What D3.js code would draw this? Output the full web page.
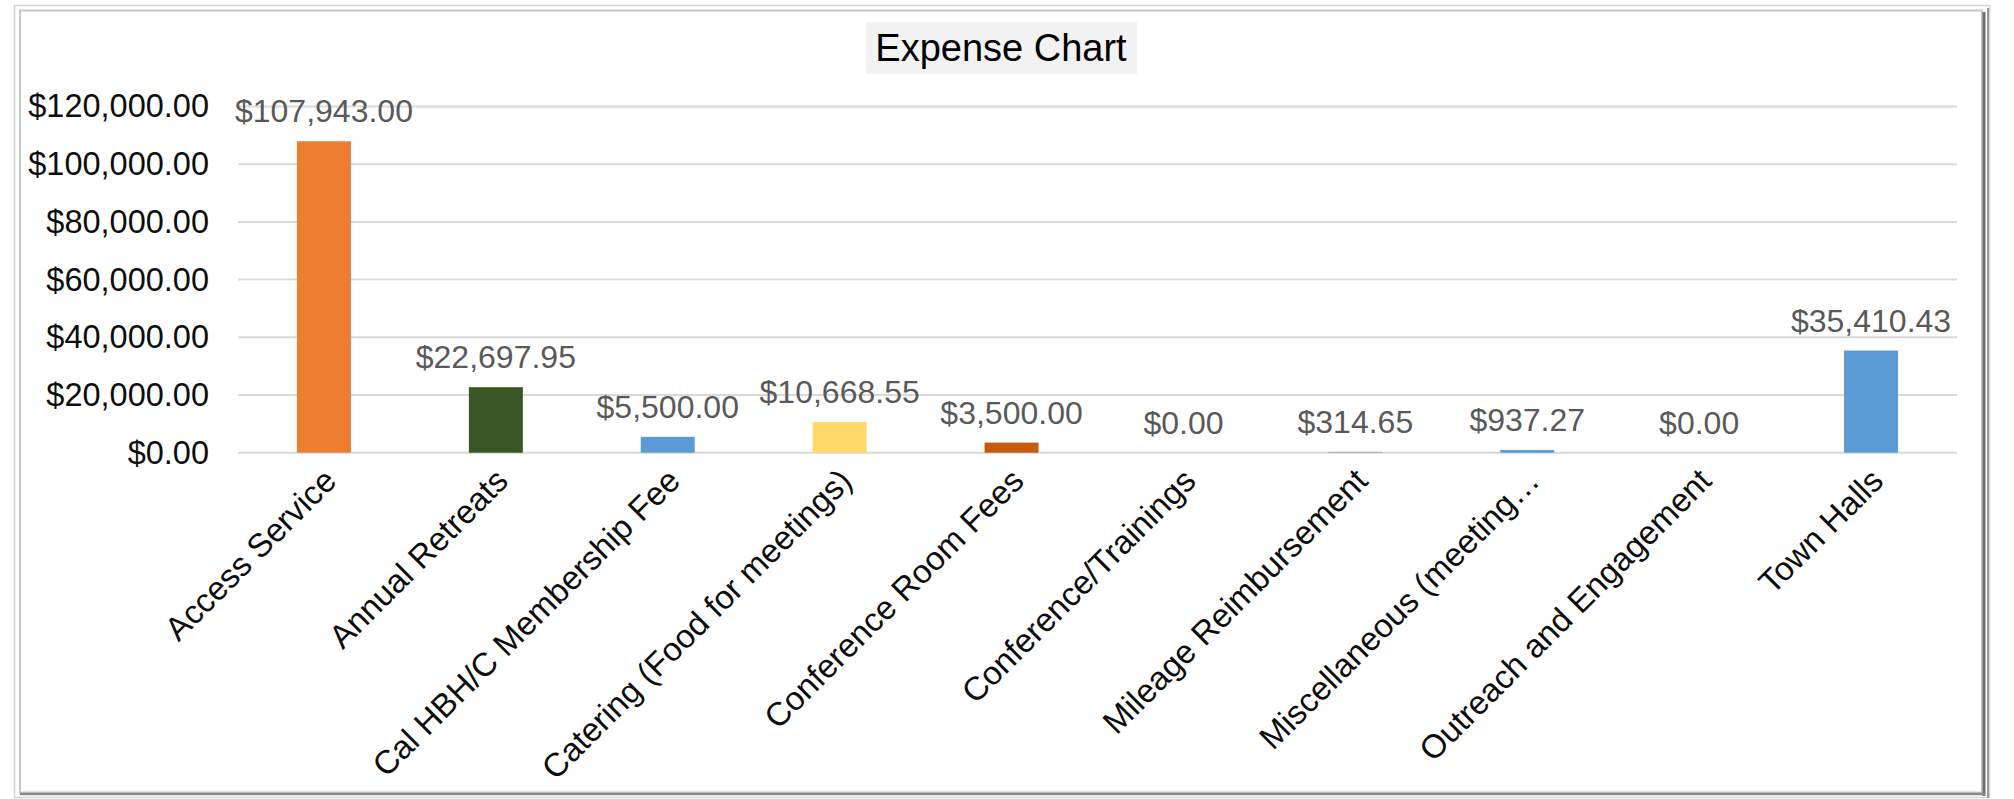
<!DOCTYPE html>
<html>
<head>
<meta charset="utf-8">
<script src="https://cdn.jsdelivr.net/npm/d3@7"></script>
<style>
  body { margin: 0; background: #fff; }
  svg text { font-family: "Liberation Sans", Arial, sans-serif; }
</style>
</head>
<body>
<div id="chart"></div>
<script>
// expense categories and totals
let categories = ["Access Service", "Annual Retreats", "Cal HBH/C Membership Fee", "Catering (Food for meetings)",
    "Conference Room Fees", "Conference/Trainings", "Mileage Reimbursement", "Miscellaneous (meeting\u2026",
    "Outreach and Engagement", "Town Halls"]
let amounts = [107943.00, 22697.95, 5500.00, 10668.55, 3500.00, 0, 314.65, 937.27, 0, 35410.43]
let barColors = ["#ED7D31", "#375623", "#5B9BD5", "#FFD966", "#C55A11", "#5B9BD5", "#A5A5A5", "#5B9BD5", "#5B9BD5", "#5B9BD5"]
let yTicks = [0, 20000, 40000, 60000, 80000, 100000, 120000]

document.addEventListener('DOMContentLoaded', function() {
    drawBarChart();
})

function drawBarChart() {
    var width = 2014, height = 799;
    var plot = {left: 238, right: 1957, top: 106.5, bottom: 452.7};

    var money = d3.format("$,.2f")

    var svg = d3.select("#chart")
        .append("svg")
            .attr("width", width)
            .attr("height", height)

    // frame with a little shadow on the right/bottom
    svg.append("rect")
        .attr("x", 14.5).attr("y", 5.5)
        .attr("width", 1975).attr("height", 792)
        .attr("fill", "none")
        .attr("stroke", "#d4d4d4")
        .attr("stroke-width", 1.5)
    svg.append("rect")
        .attr("x", 20).attr("y", 10.5)
        .attr("width", 1962).attr("height", 782)
        .attr("fill", "#fff")
        .attr("stroke", "#c8c8c8")
        .attr("stroke-width", 2)
    svg.append("line")
        .attr("x1", 1984).attr("x2", 1984).attr("y1", 12).attr("y2", 796)
        .attr("stroke", "#6e6e6e").attr("stroke-width", 3)
    svg.append("line")
        .attr("x1", 1988).attr("x2", 1988).attr("y1", 8).attr("y2", 798)
        .attr("stroke", "#9a9a9a").attr("stroke-width", 2)
    svg.append("line")
        .attr("x1", 20).attr("x2", 1985).attr("y1", 794).attr("y2", 794)
        .attr("stroke", "#8a8a8a").attr("stroke-width", 2.5)

    // title
    svg.append("rect")
        .attr("x", 866).attr("y", 22)
        .attr("width", 271).attr("height", 52)
        .attr("fill", "#f2f2f2")
    svg.append("text")
        .attr("x", 1001)
        .attr("y", 61)
        .attr("text-anchor", "middle")
        .style("font-size", "38px")
        .attr("fill", "#000")
        .text("Expense Chart")

    var x = d3.scaleBand()
        .domain(categories)
        .range([plot.left, plot.right])
        .padding(0)

    var y = d3.scaleLinear()
        .domain([0, 120000])
        .range([plot.bottom, plot.top]);

    // gridlines
    svg.append("g")
        .selectAll("line")
        .data(yTicks)
        .enter()
        .append("line")
            .attr("x1", plot.left)
            .attr("x2", plot.right)
            .attr("y1", function(d) { return y(d) })
            .attr("y2", function(d) { return y(d) })
            .attr("stroke", "#d9d9d9")
            .attr("stroke-width", 2)

    // y axis labels
    var yAxis = svg.append("g")
        .attr("transform", "translate(" + (plot.left - 29) + ",0)")
        .call(d3.axisLeft(y).tickValues(yTicks).tickFormat(money).tickSize(0).tickPadding(0))
    yAxis.select(".domain").remove()
    yAxis.selectAll("text")
        .style("font-size", "32.5px")
        .attr("fill", "#0d0d0d")
        .attr("font-family", null)

    var barW = x.bandwidth() * 0.314

    svg.selectAll(".bar")
        .data(categories)
        .enter()
        .append("rect")
            .attr("class", "bar")
            .attr("x", function(d) { return x(d) + (x.bandwidth() - barW) / 2 })
            .attr("y", function(d, i) { return y(amounts[i]) })
            .attr("width", barW)
            .attr("height", function(d, i) { return y(0) - y(amounts[i]) })
            .attr("fill", function(d, i) { return barColors[i] })

    // data labels
    svg.selectAll(".valueLabel")
        .data(categories)
        .enter()
        .append("text")
            .attr("class", "valueLabel")
            .attr("x", function(d) { return x(d) + x.bandwidth() / 2 })
            .attr("y", function(d, i) { return y(amounts[i]) - 19 })
            .attr("text-anchor", "middle")
            .style("font-size", "32px")
            .attr("fill", "#595959")
            .text(function(d, i) { return money(amounts[i]) })

    // category labels, rotated
    svg.selectAll(".catLabel")
        .data(categories)
        .enter()
        .append("text")
            .attr("class", "catLabel")
            .attr("text-anchor", "end")
            .style("font-size", "33px")
            .attr("fill", "#0d0d0d")
            .attr("transform", function(d) {
                return "translate(" + (x(d) + x.bandwidth() / 2 + 6) + "," + (plot.bottom + 22) + ") rotate(-45)"
            })
            .attr("dy", "0.35em")
            .text(function(d) { return d })
}
</script>
</body>
</html>
